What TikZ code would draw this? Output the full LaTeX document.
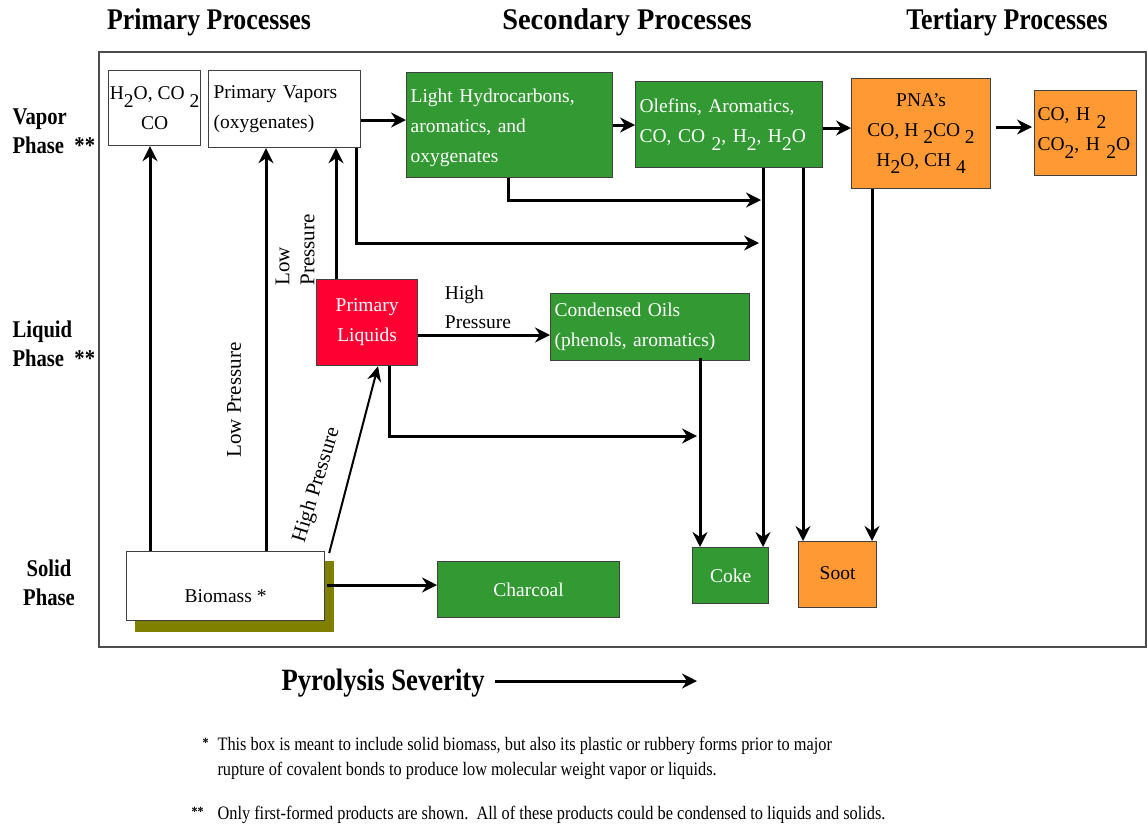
\documentclass[tikz,border=0pt]{standalone}
\usepackage{fontspec}
\setmainfont{Liberation Serif}
\newfontfamily\headfont{Liberation Serif}[FakeStretch=0.86]
\newfontfamily\condfont{Liberation Serif}[FakeStretch=0.86]
\usetikzlibrary{arrows.meta}
\definecolor{pgreen}{RGB}{51,153,51}
\definecolor{porange}{RGB}{255,153,51}
\definecolor{pred}{RGB}{255,0,51}
\definecolor{polive}{RGB}{128,128,0}
\newcommand\lowr[1]{\raisebox{-0.4em}{#1}}
\tikzset{
  box/.style={draw=black!75, line width=1.2pt, anchor=north west, inner xsep=4pt, inner ysep=2pt,
    font=\fontsize{19.5}{30}\selectfont},
  wbox/.style={box, fill=white, text=black},
  gbox/.style={box, fill=pgreen, text=white},
  obox/.style={box, fill=porange, text=black},
  rbox/.style={box, fill=pred, text=white},
  arr/.style={line width=3pt, -{Stealth[length=15pt,width=15pt,inset=5pt]}},
  thinarr/.style={line width=2pt, -{Stealth[length=15pt,width=14pt,inset=5pt]}},
  head/.style={font=\headfont\bfseries\fontsize{30}{32}\selectfont},
  side/.style={font=\headfont\bfseries\fontsize{24}{29}\selectfont, align=left},
  lbl/.style={font=\fontsize{19.5}{29}\selectfont},
  rlbl/.style={font=\fontsize{21}{25}\selectfont},
  note/.style={font=\condfont\fontsize{19}{25}\selectfont, anchor=west},
  star/.style={font=\condfont\bfseries\fontsize{14}{15}\selectfont, anchor=west},
}
\begin{document}
\begin{tikzpicture}[x=1pt,y=-1pt]
\useasboundingbox (0,0) rectangle (1147,825);
% frame
\draw[black!70, line width=1.6pt] (99,52) rectangle (1146,647);
% headings
\node[head] (hp) at (209,22) {Primary Processes};
\node[head] (hs) at (627,22) {\scalebox{1.1}[1]{Secondary Processes}};
\node[head] (ht) at (1007,22) {Tertiary Processes};
% side labels
\node[side, anchor=north west] (sv) at (9,105) {Vapor\\Phase~~**};
\node[side, anchor=north west] (sl) at (9,317) {Liquid\\Phase~~**};
\node[side, align=center] (ss) at (49,583) {Solid\\Phase};
% boxes
\node[wbox, minimum width=92pt, minimum height=75pt, inner xsep=1pt, align=center] (h2o) at (108,70) {H\lowr{2}O, CO \lowr{2}\\CO};
\node[wbox, minimum width=152pt, minimum height=77pt, text width=142pt, inner xsep=5pt, align=left] (pv) at (208,70) {Primary Vapors\\(oxygenates)};
\node[gbox, minimum width=206pt, minimum height=105pt, text width=198pt, align=left] (lh) at (406,72) {\rule{0pt}{20pt}Light Hydrocarbons,\\aromatics, and\\oxygenates};
\node[gbox, minimum width=187pt, minimum height=86pt, text width=179pt, align=left] (ol) at (635,81) {Olefins, Aromatics,\\CO, CO \lowr{2}, H\lowr{2}, H\lowr{2}O};
\node[obox, minimum width=139pt, minimum height=110pt, align=center] (pna) at (851,78) {PNA's\\CO, H \lowr{2}CO \lowr{2}\\H\lowr{2}O, CH \lowr{4}};
\node[obox, minimum width=102pt, minimum height=85pt, text width=96pt, align=left, inner xsep=2pt] (co) at (1034,90) {CO, H \lowr{2}\\CO\lowr{2}, H \lowr{2}O};
\node[rbox, minimum width=101pt, minimum height=86pt, align=center] (pl) at (316,279) {Primary\\Liquids};
\node[gbox, minimum width=199pt, minimum height=67pt, text width=191pt, align=left] (cond) at (550,293) {Condensed Oils\\(phenols, aromatics)};
\fill[polive] (135,561) rectangle (334,632);
\node[wbox, minimum width=198pt, minimum height=69pt, align=center] (bio) at (126,551) {\raisebox{-13pt}[10pt][4pt]{Biomass *}};
\node[gbox, minimum width=182pt, minimum height=56pt, align=center] (char) at (437,561) {\raisebox{-4pt}[10pt][4pt]{Charcoal}};
\node[gbox, minimum width=76pt, minimum height=56pt, align=center] (coke) at (692,547) {Coke};
\node[obox, minimum width=78pt, minimum height=66pt, align=center] (soot) at (798,541) {\raisebox{-2pt}[10pt][4pt]{Soot}};
% labels
\node[rlbl, rotate=90] (lp1) at (234,400) {Low Pressure};
\node[rlbl, rotate=90, align=left] (lp2) at (295,250) {Low\\Pressure};
\node[rlbl, rotate=73] (hp1) at (317,485) {High Pressure};
\node[lbl, align=left] (hp2) at (478,307) {High\\Pressure};
% arrows
\draw[arr] (pv.east |- 0,120) -- (lh.west |- 0,120);
\draw[arr] (lh.east |- 0,125) -- (ol.west |- 0,125);
\draw[arr] (ol.east |- 0,128) -- (pna.west |- 0,128);
\draw[arr] ([xshift=5pt]pna.east |- 0,127) -- ([xshift=-2pt]co.west |- 0,127);
\draw[arr] (bio.north -| 150,0) -- (h2o.south -| 150,0);
\draw[arr] (bio.north -| 266,0) -- (pv.south -| 266,0);
\draw[arr] (pl.north -| 336,0) -- (pv.south -| 336,0);
\draw[thinarr] ([xshift=4pt,yshift=-2pt]bio.north east) -- (pl.south -| 378,0);
\draw[arr] ([xshift=2pt]bio.east |- 0,585) -- (char.west |- 0,585);
\coordinate (j1) at (761,200);
\draw[arr] (lh.south -| 508,0) |- (j1);
\coordinate (j2) at (759,243);
\draw[arr] (pv.south -| 356,0) |- (j2);
\draw[arr] (ol.south -| 763,0) -- (coke.north -| 763,0);
\draw[arr] (ol.south -| 803,0) -- (soot.north -| 803,0);
\coordinate (j3) at (697,436);
\draw[arr] (pl.south -| 389,0) |- (j3);
\draw[arr] ([yshift=3pt]cond.south -| 700,0) -- (coke.north -| 700,0);
\draw[arr] (pna.south -| 872,0) -- (soot.north -| 872,0);
\draw[arr] (pl.east |- 0,335) -- (cond.west |- 0,335);
% severity
\node[head, font=\headfont\bfseries\fontsize{31}{32}\selectfont, anchor=west] (ps) at (278,683) {Pyrolysis Severity};
\coordinate (pe) at (697,681);
\draw[arr] (495,681) -- (pe);
% notes
\node[star] (s1) at (199,743) {*};
\node[note] (n1) at (214,746) {This box is meant to include solid biomass, but also its plastic or rubbery forms prior to major};
\node[note] (n2) at (214,771) {rupture of covalent bonds to produce low molecular weight vapor or liquids.};
\node[star] (s2) at (188,812) {**};
\node[note] (n3) at (214,815) {Only first-formed products are shown.\ \ All of these products could be condensed to liquids and solids.};
\end{tikzpicture}
\end{document}
